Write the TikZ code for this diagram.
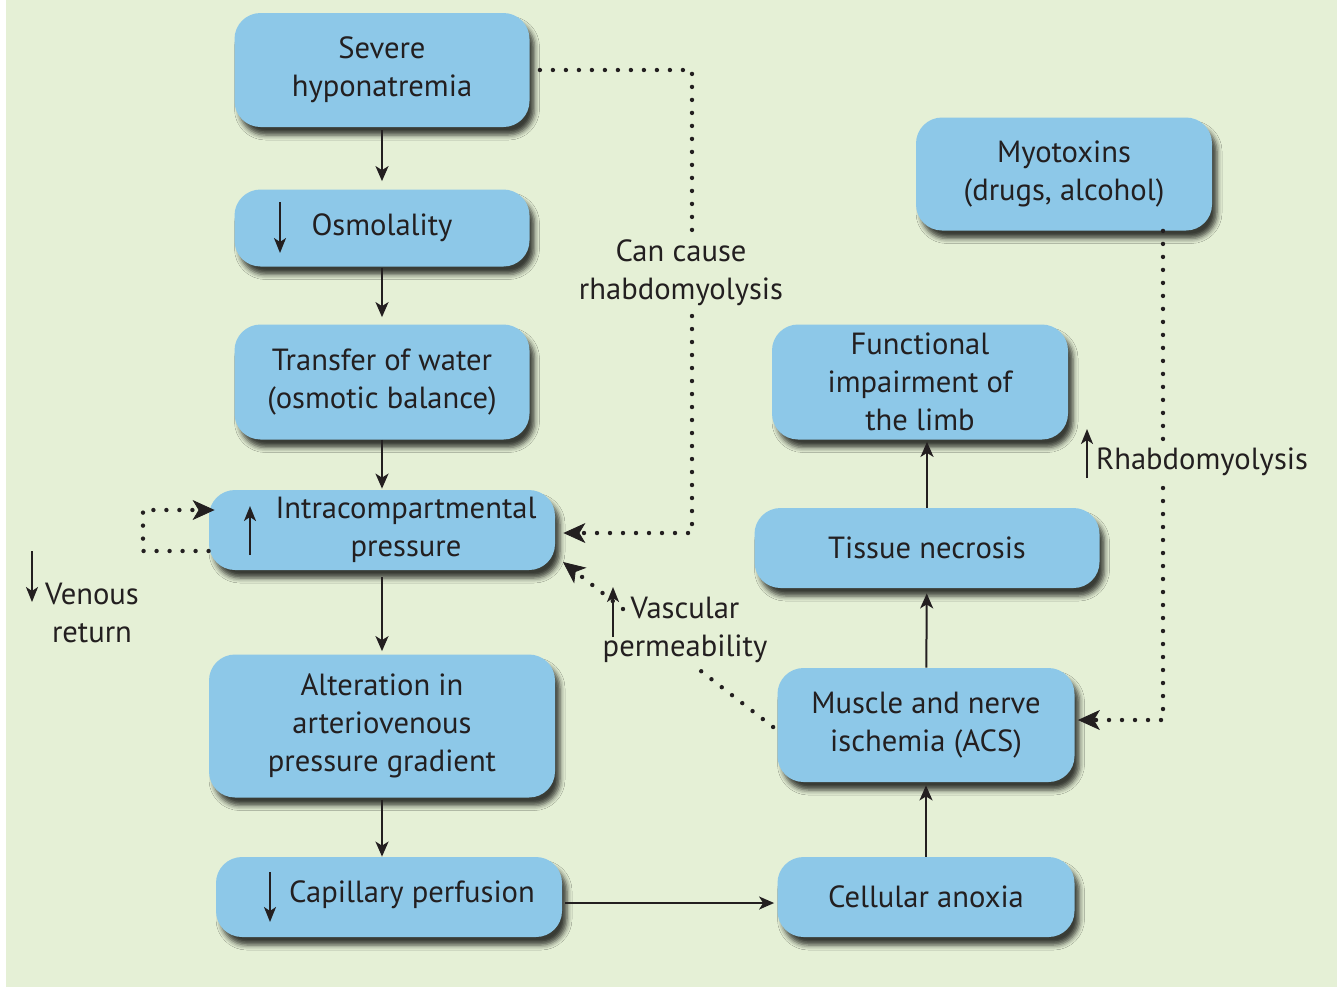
\documentclass[tikz,border=0pt]{standalone}
\usepackage{fontspec}
\setmainfont{PT Sans}
\usetikzlibrary{arrows.meta,shadows.blur}
\definecolor{bggreen}{HTML}{E5F0D6}
\definecolor{boxblue}{HTML}{8DC8E8}
\definecolor{ink}{HTML}{231F20}
\begin{document}
\begin{tikzpicture}
	[x=0.5pt,y=-0.5pt,
	every node/.style={font=\fontsize{15.3}{19}\selectfont,text=ink,align=center,inner sep=0pt},
	box/.style={shape=rectangle,rounded corners=13pt,fill=boxblue,
		blur shadow={shadow xshift=2.5pt,shadow yshift=-4pt,shadow blur radius=2.5pt,shadow opacity=75}},
	flow/.style={line width=1pt,draw=ink,-{Stealth[length=7.5pt,width=6.5pt,inset=2pt]}},
	trend/.style={line width=1pt,draw=ink,-{Stealth[length=7.5pt,width=6pt,inset=2pt]}},
	dots/.style={line width=2.2pt,draw=ink,dash pattern=on 0pt off 6.5pt,line cap=round},
	dotarrow/.style={dots,-{Stealth[length=11pt,width=10pt,inset=3pt,line width=0.4pt]}}]
	\def\wl{147.5pt}\def\wL{173pt}\def\wr{148.5pt}
	\def\hs{40pt}\def\hm{57pt}
	\useasboundingbox (0,0) rectangle (1337,987);
	\fill[bggreen] (6,0) rectangle (1337,987);
	% left column
	\node[box,minimum width=\wl,minimum height=\hm]     (sev)   at (382,70)  {Severe\\hyponatremia};
	\node[box,minimum width=\wl,minimum height=38.5pt]  (osm)   at (382,228) {Osmolality};
	\node[box,minimum width=\wl,minimum height=57.5pt]  (trans) at (382,382) {Transfer of water\\(osmotic balance)};
	\node[box,minimum width=\wL,minimum height=\hs]     (intra) at (382,530) {};
	\node (intratext) at (406,530) {Intracompartmental\\pressure};
	\node[box,minimum width=\wL,minimum height=71.5pt]  (alter) at (382,726) {Alteration in\\arteriovenous\\pressure gradient};
	\node[box,minimum width=\wL,minimum height=\hs]     (cap)   at (389,897) {};
	\node (captext) at (412,895) {Capillary perfusion};
	% right column
	\node[box,minimum width=\wr,minimum height=\hs]     (anox)  at (926,897) {Cellular anoxia};
	\node[box,minimum width=\wr,minimum height=\hm]     (musc)  at (926,725) {Muscle and nerve\\ischemia (ACS)};
	\node[box,minimum width=172.5pt,minimum height=\hs] (necr)  at (927,548) {Tissue necrosis};
	\node[box,minimum width=148pt,minimum height=57.5pt] (func) at (920,382) {Functional\\impairment of\\the limb};
	\node[box,minimum width=148pt,minimum height=56.5pt] (myo)  at (1064,174) {Myotoxins\\(drugs, alcohol)};
	% side labels
	\node (cancause) at (681,273)  {Can cause\\rhabdomyolysis};
	\node (rhabdo)   at (1202,462) {Rhabdomyolysis};
	\node (vasc)     at (685,630)  {Vascular\\permeability};
	\node (venous)   at (92,613)   {Venous\\return};
	% up and down marks
	\draw[trend] (280,202) -- (280,253);
	\draw[trend] (250,555) -- (250,506);
	\draw[trend] (270,872) -- (270,922);
	\draw[trend] (613,637) -- (613,587);
	\draw[trend] (1087,478) -- (1087,429);
	\draw[trend] (32,551) -- (32,602);
	% main chain
	\draw[flow,shorten <=1.5pt,shorten >=4pt] (sev) -- (osm);
	\draw[flow,shorten <=0.5pt,shorten >=3.5pt] (osm) -- (trans);
	\draw[flow,shorten >=0.5pt] (trans) -- (intra);
	\draw[flow,shorten <=3.5pt,shorten >=1.5pt] (intra) -- (alter);
	\draw[flow,shorten <=1pt] (alter.south) -- (alter.south |- cap.north);
	\draw[flow,shorten <=1.5pt,shorten >=1.5pt] ([yshift=-3pt]cap.east) -- ([yshift=-3pt]anox.west);
	\draw[flow,shorten >=1.5pt] (anox) -- (musc);
	\draw[flow,shorten >=2.5pt] (musc) -- (necr);
	\draw[flow,shorten >=1pt] (necr.north) -- (necr.north |- func.south);
	% dotted links
	\coordinate (cc1) at (692,238); \coordinate (cc2) at (692,316);
	\coordinate (my1) at (1163,440); \coordinate (my2) at (1163,488);
	\coordinate (vp1) at (697,668); \coordinate (vp2) at (623,609);
	\coordinate (vp3) at (563,562);
	\coordinate (vr1) at (143,551); \coordinate (vr2) at (143,510);
	\draw[dots,shorten <=5pt] (sev.east) -| (cc1);
	\draw[dotarrow,shorten >=4pt] (cc2) |- ([yshift=-1.5pt]intra.east);
	\draw[dots] (myo.south -| my1) -- (my1);
	\draw[dotarrow,shorten >=1.5pt] (my2) |- ([yshift=2.5pt]musc.east);
	\draw[dots] ([shift={(-2pt,-1pt)}]musc.west) -- (vp1);
	\draw[dotarrow] (vp2) -- (vp3);
	\draw[dotarrow,shorten >=-3pt] ([yshift=-10.5pt]intra.west) -- (vr1) -- (vr2) -- ([yshift=10pt]intra.west);
\end{tikzpicture}
\end{document}
